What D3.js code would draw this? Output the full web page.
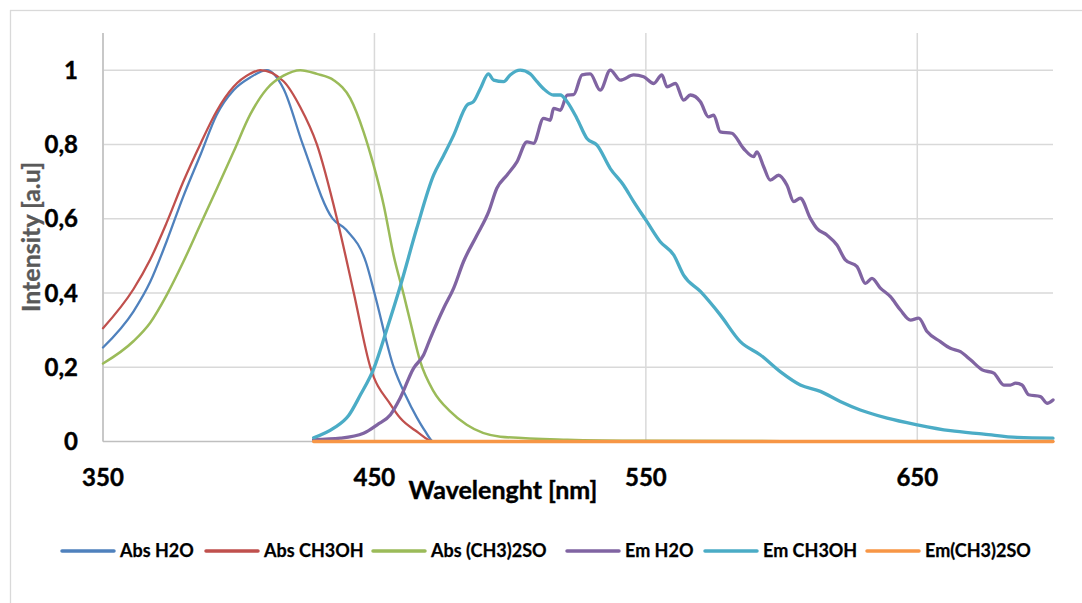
<!DOCTYPE html>
<html><head><meta charset="utf-8">
<script src="https://cdn.jsdelivr.net/npm/d3@7"></script>
<style>body{margin:0;background:#fff;}svg{display:block;font-family:Lato,"Open Sans",sans-serif;}</style>
</head><body>
<svg id="chart" width="1082" height="603"></svg>
<script>
const seriesNames = ["Abs H2O","Abs CH3OH","Abs (CH3)2SO","Em H2O","Em CH3OH","Em(CH3)2SO"];
const seriesColors = ["#4F81BD","#C0504D","#9BBB59","#8064A2","#4BACC6","#F79646"];
const xTicks = [350,450,550,650];
const yTicks = [0,0.2,0.4,0.6,0.8,1];
const yTickLabels = ["0","0,2","0,4","0,6","0,8","1"];

const absH2O = [[350,0.253],[361.2,0.35],[367.4,0.43],[373.5,0.54],[379.6,0.66],[385.8,0.77],[391.9,0.88],[398.1,0.946],[404.2,0.98],[410.4,1.0],[416.5,0.95],[423.6,0.8],[434.6,0.6],[439.6,0.57],[447,0.48],[450,0.4],[457.1,0.2],[461.4,0.125],[465.6,0.065],[468.5,0.03],[471.8,0],[500,0],[600,0],[700,0]];
const absCH3OH = [[350,0.305],[361.2,0.41],[367.4,0.49],[373.5,0.59],[379.6,0.70],[385.8,0.80],[391.9,0.89],[398.1,0.955],[404.2,0.99],[407.9,1.0],[416.5,0.97],[422.7,0.9],[428.8,0.8],[436.2,0.6],[442.4,0.4],[448.5,0.2],[455.9,0.1],[459.5,0.063],[465.6,0.027],[471.8,0],[500,0],[600,0],[700,0]];
const absDMSO = [[350,0.21],[361.2,0.27],[367.4,0.32],[373.5,0.395],[379.6,0.484],[385.8,0.583],[391.9,0.68],[398.1,0.78],[404.2,0.88],[410.4,0.95],[416.5,0.985],[422.7,1.0],[428.8,0.99],[435,0.973],[441.1,0.924],[446,0.834],[449.7,0.744],[453.4,0.637],[457.1,0.50],[460.8,0.395],[463.2,0.323],[466.9,0.215],[471.8,0.135],[477.9,0.081],[484,0.045],[496.4,0.013],[521,0.005],[550,0.002],[600,0.001],[700,0]];
const emH2O = [[427.6,0.005],[437.5,0.009],[446,0.022],[451,0.045],[455.9,0.072],[459.5,0.117],[464.4,0.197],[468.1,0.233],[470.6,0.278],[475.5,0.359],[479.2,0.413],[482.8,0.484],[487.8,0.556],[492.1,0.619],[495.1,0.682],[498.8,0.717],[502.5,0.753],[506.2,0.807],[508.6,0.803],[512.3,0.87],[514.8,0.865],[516,0.897],[518.5,0.892],[521,0.933],[523.4,0.934],[526.5,0.987],[529.5,0.99],[533.2,0.946],[536.9,1.0],[540.6,0.973],[545.5,0.987],[549.2,0.982],[552.9,0.964],[555.9,0.987],[557.8,0.955],[560.9,0.964],[563.9,0.919],[566.4,0.933],[570.1,0.915],[573.1,0.874],[575,0.879],[577.4,0.834],[581.7,0.83],[586,0.789],[589.7,0.767],[590.9,0.78],[593.4,0.74],[595.8,0.704],[598.9,0.717],[602,0.69],[604.5,0.646],[606.9,0.655],[610.6,0.601],[613,0.574],[616.7,0.556],[620.4,0.529],[623.5,0.489],[627.8,0.471],[630.9,0.426],[633.3,0.439],[636.4,0.413],[640.1,0.39],[643.8,0.354],[647.5,0.327],[650.5,0.332],[653.6,0.296],[658.5,0.269],[662.2,0.251],[665.9,0.242],[669.6,0.22],[673.9,0.193],[678.2,0.184],[681.9,0.152],[684.3,0.152],[686.2,0.157],[688.6,0.152],[691,0.126],[695.4,0.121],[697.8,0.103],[700,0.112]];
const emCH3OH = [[427.6,0.01],[435,0.036],[440.5,0.07],[444.8,0.125],[449.8,0.197],[454.7,0.305],[459.6,0.42],[465.6,0.574],[471.8,0.717],[475.5,0.77],[479.2,0.825],[484.1,0.906],[486.5,0.915],[489,0.95],[492,0.99],[493.9,0.973],[497.6,0.969],[500,0.987],[503.7,1.0],[507.4,0.99],[509.9,0.969],[512.3,0.95],[516,0.933],[518.5,0.933],[521,0.915],[524.6,0.87],[528.3,0.816],[532,0.798],[536.9,0.735],[541.8,0.69],[545.5,0.646],[550.4,0.592],[555.3,0.538],[560.3,0.502],[563.9,0.448],[570.1,0.404],[577.4,0.341],[584.8,0.269],[592.2,0.233],[599.5,0.188],[606.9,0.152],[614.3,0.135],[621.6,0.108],[629,0.085],[638.9,0.063],[650,0.045],[662.2,0.029],[674.5,0.02],[686.8,0.011],[700,0.009]];
const emDMSO = [[427.6,0],[500,0],[600,0],[700,0]];
const allSeries = [absH2O, absCH3OH, absDMSO, emH2O, emCH3OH, emDMSO];
const lineWidths = [2.3,2.3,2.5,3.3,3.3,3.3];

const svg = d3.select("#chart");
const x = d3.scaleLinear().domain([350,700]).range([103,1053]);
const y = d3.scaleLinear().domain([0,1.1]).range([441.5,33]);

// outer border
svg.append("rect").attr("x",10.5).attr("y",10.5).attr("width",1090).attr("height",620)
  .attr("fill","none").attr("stroke","#d9d9d9").attr("stroke-width",1.3);

// gridlines
const grid = svg.append("g");
grid.selectAll("line.h").data(yTicks.filter(d=>d>0)).enter().append("line")
  .attr("x1",x(350)).attr("x2",x(700)).attr("y1",d=>y(d)).attr("y2",d=>y(d))
  .attr("stroke","#d9d9d9").attr("stroke-width",1.5);
grid.selectAll("line.v").data(xTicks).enter().append("line")
  .attr("x1",d=>x(d)).attr("x2",d=>x(d)).attr("y1",y(1.1)).attr("y2",y(0))
  .attr("stroke","#d9d9d9").attr("stroke-width",1.5);
grid.append("line").attr("x1",x(350)).attr("x2",x(700)).attr("y1",y(0)).attr("y2",y(0))
  .attr("stroke","#bfbfbf").attr("stroke-width",1.5);
grid.append("line").attr("x1",x(350)).attr("x2",x(350)).attr("y1",y(1.1)).attr("y2",y(0))
  .attr("stroke","#bfbfbf").attr("stroke-width",1.5);

// tick labels
svg.append("g").selectAll("text").data(yTicks).enter().append("text")
  .attr("x",78).attr("y",d=>y(d)).attr("dy","0.36em").attr("text-anchor","end")
  .attr("font-weight","bold").attr("font-size",24).attr("fill","#000")
  .attr("stroke","#000").attr("stroke-width",0.4)
  .text((d,i)=>yTickLabels[i]);
svg.append("g").selectAll("text").data(xTicks).enter().append("text")
  .attr("x",d=>x(d)).attr("y",486).attr("text-anchor","middle")
  .attr("font-weight","bold").attr("font-size",24).attr("fill","#000")
  .attr("stroke","#000").attr("stroke-width",0.4)
  .text(d=>d);

// axis titles
svg.append("text").attr("x",503).attr("y",499).attr("text-anchor","middle")
  .attr("font-weight","bold").attr("font-size",25).attr("fill","#000")
  .attr("stroke","#000").attr("stroke-width",0.4).text("Wavelenght [nm]");
svg.append("text").attr("transform","translate(40,237) rotate(-90)").attr("text-anchor","middle")
  .attr("font-weight","bold").attr("font-size",25).attr("fill","#595959")
  .attr("stroke","#595959").attr("stroke-width",0.3).text("Intensity [a.u]");

// lines
const line = d3.line().x(d=>x(d[0])).y(d=>y(d[1])).curve(d3.curveMonotoneX);
svg.append("g").selectAll("path").data(allSeries).enter().append("path")
  .attr("d",line).attr("fill","none")
  .attr("stroke",(d,i)=>seriesColors[i]).attr("stroke-width",(d,i)=>lineWidths[i])
  .attr("stroke-linejoin","round").attr("stroke-linecap","round");

// legend
const legendX = [62,206,373,567,705,867];
const lg = svg.append("g");
seriesNames.forEach((n,i)=>{
  lg.append("line").attr("x1",legendX[i]).attr("x2",legendX[i]+52).attr("y1",551).attr("y2",551)
    .attr("stroke",seriesColors[i]).attr("stroke-width",3.5).attr("stroke-linecap","round");
  lg.append("text").attr("x",legendX[i]+58).attr("y",551).attr("dy","0.36em")
    .attr("font-weight","bold").attr("font-size",18).attr("fill","#000")
    .attr("stroke","#000").attr("stroke-width",0.25).text(n);
});
</script>
</body></html>
